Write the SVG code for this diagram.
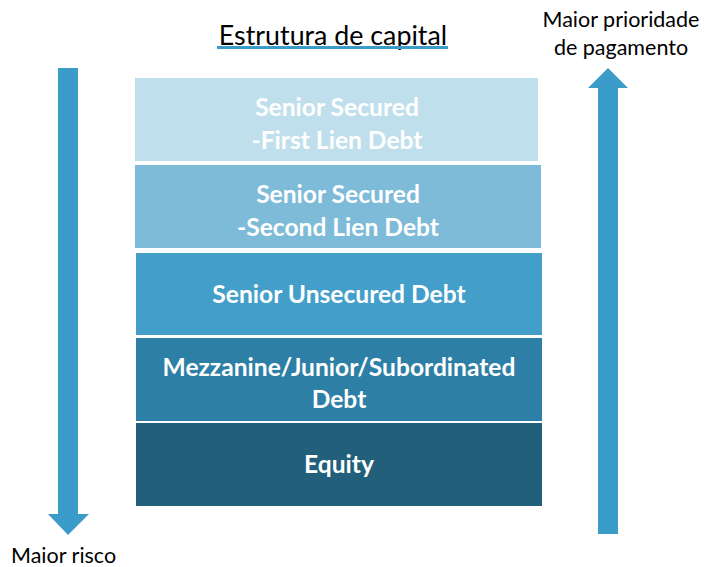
<svg xmlns="http://www.w3.org/2000/svg" width="706" height="567" viewBox="0 0 706 567">
<style>
.lbl{font-family:Lato,"Open Sans","Liberation Sans",sans-serif;font-weight:bold;font-size:24.6px;fill:#ffffff;text-anchor:middle}
.side{font-family:Lato,"Open Sans","Liberation Sans",sans-serif;font-size:21.5px;fill:#000000}
.arrow{fill:#3B9BC9}
</style>
<rect width="706" height="567" fill="#ffffff"/>
<g id="title">
<text x="333" y="45" class="side" style="font-size:26.8px" text-anchor="middle">Estrutura de capital</text>
<rect x="217" y="46" width="231" height="3" fill="#3B9BC9"/>
</g>
<g id="n1"><rect x="135" y="78" width="403" height="83" fill="#BFDFEC"/>
<text class="lbl" x="337" y="116">Senior Secured</text><text class="lbl" x="337" y="149">-First Lien Debt</text></g>
<g id="n2"><rect x="135" y="165" width="406" height="83" fill="#7EBBD9"/>
<text class="lbl" x="338" y="203">Senior Secured</text><text class="lbl" x="338" y="236">-Second Lien Debt</text></g>
<g id="n3"><rect x="136" y="253" width="406" height="82" fill="#439FCA"/>
<text class="lbl" x="339" y="303">Senior Unsecured Debt</text></g>
<g id="n4"><rect x="136" y="338" width="406" height="83" fill="#2E7FA5"/>
<text class="lbl" x="339" y="376">Mezzanine/Junior/Subordinated</text><text class="lbl" x="339" y="408">Debt</text></g>
<g id="n5"><rect x="136" y="423" width="406" height="83" fill="#225F7B"/>
<text class="lbl" x="339" y="473">Equity</text></g>
<g id="connectors">
<polygon class="arrow" points="58,68 78,68 78,514 89,514 68,535 48,514 58,514"/>
<polygon class="arrow" points="608,68 628,88 618,88 618,534 598,534 598,88 588,88"/>
</g>
<g id="labels">
<text class="side" x="621" y="27" text-anchor="middle">Maior prioridade</text>
<text class="side" x="621" y="55" text-anchor="middle">de pagamento</text>
<text class="side" x="11" y="563">Maior risco</text>
</g>
</svg>
